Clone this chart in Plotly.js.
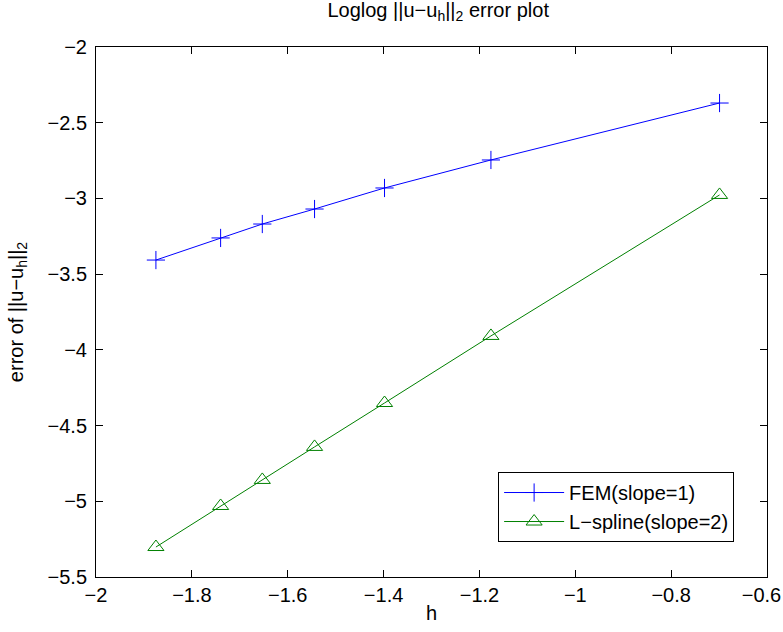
<!DOCTYPE html>
<html>
<head>
<meta charset="utf-8">
<script src="https://cdn.plot.ly/plotly-3.0.1.min.js"></script>
<style>html,body{margin:0;padding:0;background:#fff;}#chart{width:783px;height:632px;}</style>
</head>
<body>
<div id="chart"></div>
<script>
var logH = [-1.875, -1.740, -1.653, -1.544, -1.398, -1.176, -0.699];
var femErr = [-3.407, -3.261, -3.169, -3.070, -2.931, -2.746, -2.370];
var splineErr = [-5.302, -5.031, -4.859, -4.641, -4.351, -3.908, -2.977];
var seriesNames = ['FEM(slope=1)', 'L\u2212spline(slope=2)'];
var xTicks = [-2, -1.8, -1.6, -1.4, -1.2, -1, -0.8, -0.6];
var yTicks = [-5.5, -5, -4.5, -4, -3.5, -3, -2.5, -2];

var fontFam = 'Liberation Sans, Arial, Helvetica, sans-serif';
var fs = 20;
function fmt(v){ return (v < 0 ? '\u2212' : '') + String(Math.abs(v)); }
var xTickText = xTicks.map(fmt);
// pad the last label so it stays inside the page edge, as in the reference
xTickText[xTickText.length - 1] = xTickText[xTickText.length - 1] + '\u00a0\u00a0';

var traces = [
  {x: logH, y: femErr, name: seriesNames[0], mode: 'lines+markers',
   line: {color: '#0000ff', width: 1},
   marker: {symbol: 'cross-thin', size: 13, line: {color: '#0000ff', width: 1}, color: '#0000ff'}},
  {x: logH, y: splineErr, name: seriesNames[1], mode: 'lines+markers',
   line: {color: '#008000', width: 1},
   marker: {symbol: 'triangle-up-open', size: 14, color: '#008000', line: {color: '#008000', width: 1}}}
];

var axisCommon = {
  showgrid: false, zeroline: false, showline: true, linecolor: '#000', linewidth: 1,
  mirror: 'ticks', ticks: 'inside', ticklen: 7, tickcolor: '#000', tickwidth: 1,
  automargin: false, ticklabeloverflow: 'allow',
  tickfont: {family: fontFam, size: fs, color: '#000'}
};

var layout = {
  width: 783, height: 632,
  margin: {l: 96, r: 16, t: 47, b: 55},
  paper_bgcolor: '#fff', plot_bgcolor: '#fff',
  font: {family: fontFam, color: '#000', size: fs},
  title: {text: 'Loglog ||u\u2212u<sub>h</sub>||<sub>2</sub> error plot', font: {family: fontFam, size: 20, color: '#000'},
          xref: 'paper', x: 0.51, xanchor: 'center', yref: 'container', y: 0.995, yanchor: 'top'},
  xaxis: Object.assign({}, axisCommon, {
    range: [-2, -0.6], tickvals: xTicks, ticktext: xTickText,
    title: {text: 'h', font: {family: fontFam, size: fs, color: '#000'}, standoff: 0}
  }),
  yaxis: Object.assign({}, axisCommon, {
    range: [-5.5, -2], tickvals: yTicks, ticktext: yTicks.map(fmt), ticklabelstandoff: 4,
    title: {text: 'error of ||u\u2212u<sub>h</sub>||<sub>2</sub>', font: {family: fontFam, size: fs, color: '#000'}, standoff: 18}
  }),
  showlegend: true,
  legend: {x: 0.951, y: 0.066, xanchor: 'right', yanchor: 'bottom', bgcolor: '#fff',
           bordercolor: '#000', borderwidth: 1, font: {family: fontFam, size: fs, color: '#000'},
           tracegroupgap: 0, itemwidth: 60}
};

Plotly.newPlot('chart', traces, layout, {displayModeBar: false, staticPlot: true});
</script>
</body>
</html>
